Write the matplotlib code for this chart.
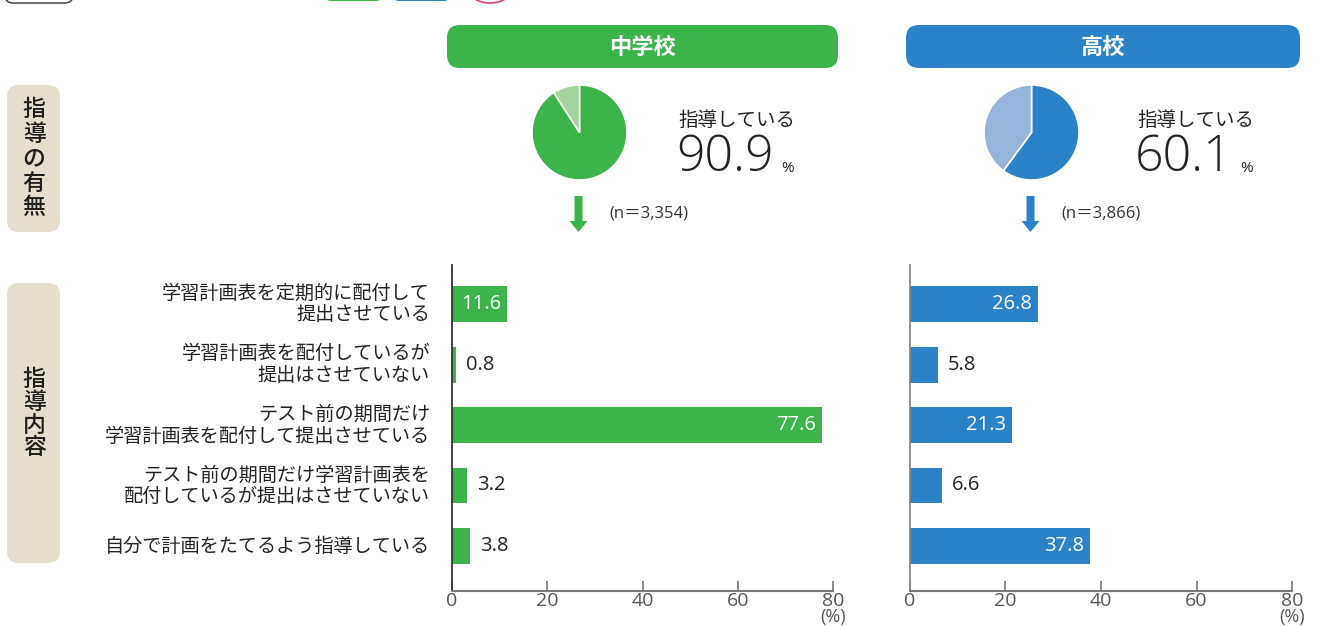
import matplotlib
matplotlib.use("Agg")
import matplotlib.pyplot as plt
from matplotlib.patches import FancyBboxPatch, FancyArrow, Ellipse

plt.rcParams['font.family'] = ['Noto Sans CJK JP', 'DejaVu Sans']
NUM_FONT = ['Open Sans', 'Noto Sans CJK JP', 'DejaVu Sans']

# data
categories = [
    "学習計画表を定期的に配付して\n提出させている",
    "学習計画表を配付しているが\n提出はさせていない",
    "テスト前の期間だけ\n学習計画表を配付して提出させている",
    "テスト前の期間だけ学習計画表を\n配付しているが提出はさせていない",
    "自分で計画をたてるよう指導している",
]
jhs_values = [11.6, 0.8, 77.6, 3.2, 3.8]
hs_values = [26.8, 5.8, 21.3, 6.6, 37.8]
school_names = ["中学校", "高校"]
guide_rates = [90.9, 60.1]
sample_sizes = ["(n＝3,354)", "(n＝3,866)"]
x_ticks = [0, 20, 40, 60, 80]

GREEN = "#3bb54a"
GREEN_LIGHT = "#a3d49d"
BLUE = "#2a83c8"
BLUE_LIGHT = "#96b5dd"
TAN = "#e5dece"
W, H = 1322, 626

fig = plt.figure(figsize=(W / 100, H / 100), dpi=100)

# overlay in pixel coords for boxes, texts, arrows
ov = fig.add_axes([0, 0, 1, 1])
ov.set_xlim(0, W)
ov.set_ylim(H, 0)
ov.axis("off")


def rbox(x0, y0, x1, y1, fc, ec="none", r=12, lw=1.0):
    p = FancyBboxPatch((x0 + r, y0 + r), (x1 - x0) - 2 * r, (y1 - y0) - 2 * r,
                       boxstyle="round,pad=%d" % r, fc=fc, ec=ec, lw=lw)
    ov.add_patch(p)


# cut-off header row at the very top
rbox(5, -30, 73, 3, "white", ec="#333333", r=8)
rbox(325, -30, 382, 1, GREEN, r=6)
rbox(393, -30, 450, 1, BLUE, r=6)
ov.add_patch(Ellipse((490, -10), 42, 26, fc="none", ec="#e0407a", lw=1.2))

# left side labels
rbox(7, 85, 60, 232, TAN)
rbox(7, 283, 60, 563, TAN)
for i, ch in enumerate("指導の有無"):
    ov.text(34, 110 + i * 24.5, ch, ha="center", va="center", fontsize=16.5,
            color="#1e1e1e", fontweight="medium")
for i, ch in enumerate("指導内容"):
    ov.text(34, 380 + i * 22.5, ch, ha="center", va="center", fontsize=16.5,
            color="#1e1e1e", fontweight="medium")

# school panels
panels = [
    dict(box=(447, 838), pie_cx=579.5, text_x=678, main=GREEN, light=GREEN_LIGHT,
         bar_x=(452, 833), values=jhs_values),
    dict(box=(906, 1300), pie_cx=1031.5, text_x=1137, main=BLUE, light=BLUE_LIGHT,
         bar_x=(910, 1292), values=hs_values),
]

for k, p in enumerate(panels):
    x0, x1 = p["box"]
    rbox(x0, 25, x1, 68, p["main"], r=13)
    ov.text((x0 + x1) / 2, 47, school_names[k], ha="center", va="center",
            fontsize=16, fontweight="bold", color="white")

    # pie
    r = 48
    pax = fig.add_axes([(p["pie_cx"] - r) / W, 1 - (132.5 + r) / H, 2 * r / W, 2 * r / H])
    rate = guide_rates[k]
    pax.pie([rate, 100 - rate], colors=[p["main"], p["light"]], startangle=90,
            counterclock=False, wedgeprops=dict(edgecolor="white", linewidth=1.2))
    pax.set_xlim(-1.01, 1.01)
    pax.set_ylim(-1.01, 1.01)
    pax.set_aspect("equal")

    tx = p["text_x"]
    ov.text(tx, 120, "指導している", ha="left", va="center", fontsize=14, color="#222222")
    ov.text(tx - 2, 158, "%.1f" % rate, ha="left", va="center", fontsize=36,
            color="#222222", family=NUM_FONT, fontweight="light")
    ov.text(tx + 103, 169, "%", ha="left", va="center", fontsize=11, color="#222222",
            family=NUM_FONT)

    # arrow and n
    ax_c = p["pie_cx"] - 1
    ov.add_patch(FancyArrow(ax_c, 196, 0, 36, width=8, head_width=18, head_length=11,
                            length_includes_head=True, fc=p["main"], ec="none"))
    ov.text(ax_c + 31, 214, sample_sizes[k], ha="left", va="center", fontsize=12,
            color="#333333", family=NUM_FONT)

    # bar chart
    bx0, bx1 = p["bar_x"]
    top, bottom = 265, 591
    bax = fig.add_axes([bx0 / W, 1 - bottom / H, (bx1 - bx0) / W, (bottom - top) / H])
    ypos = list(range(len(categories)))
    vals = p["values"]
    bax.barh(ypos, vals, height=0.595, color=p["main"])
    bax.set_xlim(0, 80)
    bax.set_ylim(len(categories) - 1 + 0.744, -0.645)
    px_per_unit = (bx1 - bx0) / 80
    for y, v in zip(ypos, vals):
        if v > 10:
            bax.text(v - 6 / px_per_unit, y, "%.1f" % v, ha="right", va="center",
                     fontsize=14.5, color="white", family=NUM_FONT)
        else:
            bax.text(v + 10 / px_per_unit, y, "%.1f" % v, ha="left", va="center",
                     fontsize=14.5, color="#222222", family=NUM_FONT)
    bax.set_xticks(x_ticks)
    bax.set_xticklabels([str(t) for t in x_ticks], fontsize=14, color="#555555",
                        family=NUM_FONT)
    bax.tick_params(axis="x", direction="in", length=7, width=1.2, color="#777777", pad=1)
    bax.set_yticks([])
    for s in ["top", "right"]:
        bax.spines[s].set_visible(False)
    bax.spines["bottom"].set_color("#7a7a7a")
    bax.spines["bottom"].set_linewidth(1.5)
    bax.spines["left"].set_color("#333333" if k == 0 else "#888888")
    bax.spines["left"].set_linewidth(1.3)
    ov.text(bx1, 617, "(%)", ha="center", va="center", fontsize=13, color="#555555",
            family=NUM_FONT)

# category labels
for i, c in enumerate(categories):
    ov.text(430, 304 + i * 60.6, c, ha="right", va="center", fontsize=13.8,
            color="#222222", linespacing=1.05, multialignment="right")

fig.savefig("out.png", dpi=100)
